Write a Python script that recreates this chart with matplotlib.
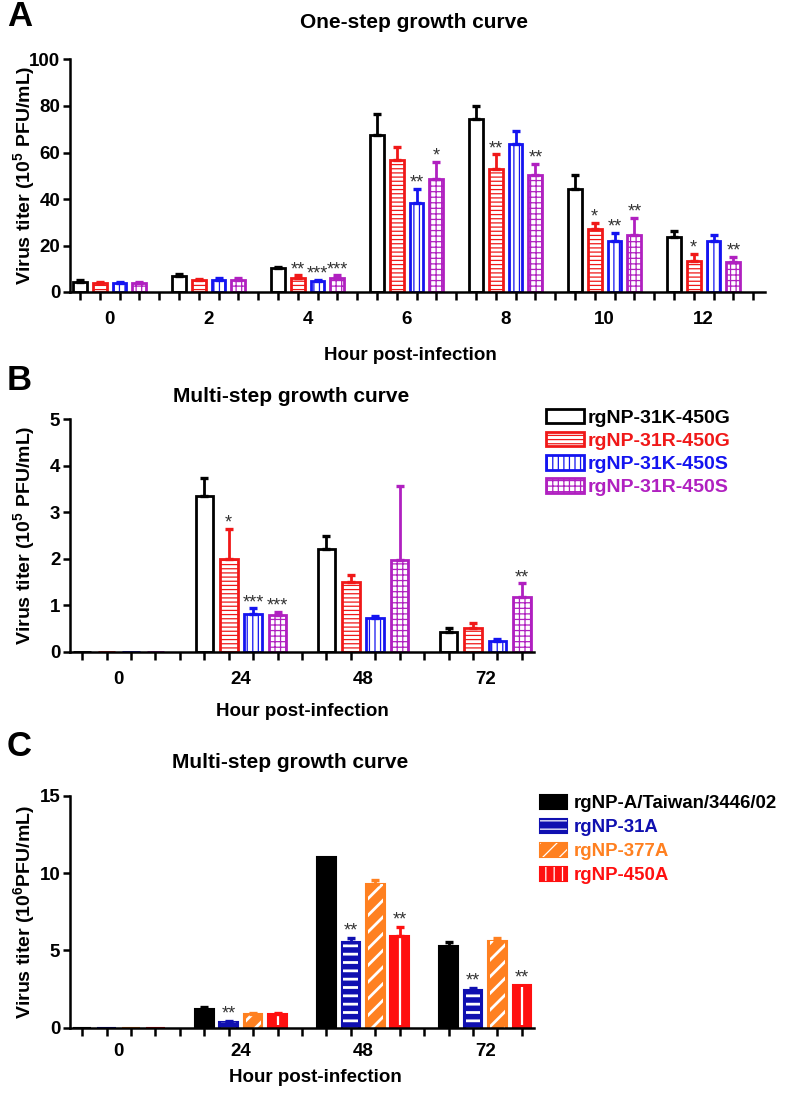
import numpy as np
import matplotlib
matplotlib.use("Agg")
import matplotlib.pyplot as plt
from matplotlib.patches import Patch
from matplotlib import rcParams

rcParams['font.family'] = ['Liberation Sans', 'DejaVu Sans']
rcParams['font.weight'] = 'bold'
rcParams['mathtext.fontset'] = 'custom'
rcParams['mathtext.rm'] = 'Liberation Sans:bold'
rcParams['mathtext.bf'] = 'Liberation Sans:bold'
rcParams['mathtext.default'] = 'bf'
rcParams['hatch.linewidth'] = 0.9

# ---------------- data ----------------
# panel A: one-step growth curve (10^5 PFU/mL)
hours_a = ['0', '2', '4', '6', '8', '10', '12']
a_31K_450G = [4.3, 6.7, 10.3, 67.5, 74.3, 44.2, 23.5]
a_31K_450G_err = [0.9, 0.9, 0.5, 9.0, 5.7, 6.1, 2.7]
a_31R_450G = [3.9, 5.2, 6.2, 56.8, 52.8, 27.0, 13.5]
a_31R_450G_err = [0.5, 0.5, 1.0, 5.7, 6.4, 2.8, 2.8]
a_31K_450S = [3.7, 5.3, 4.6, 38.4, 63.5, 21.9, 21.9]
a_31K_450S_err = [0.4, 0.6, 0.5, 5.9, 5.9, 3.6, 2.6]
a_31R_450S = [3.7, 5.0, 6.2, 48.5, 50.3, 24.5, 12.8]
a_31R_450S_err = [0.4, 0.9, 0.9, 7.5, 4.7, 7.5, 2.4]
a_stars_31R_450G = ['', '', '**', '', '**', '*', '*']
a_stars_31K_450S = ['', '', '***', '**', '', '**', '']
a_stars_31R_450S = ['', '', '***', '*', '**', '**', '**']

# panel B: multi-step growth curve (10^5 PFU/mL)
hours_b = ['0', '24', '48', '72']
b_31K_450G = [0, 3.35, 2.22, 0.43]
b_31K_450G_err = [0, 0.38, 0.27, 0.07]
b_31R_450G = [0, 2.0, 1.5, 0.52]
b_31R_450G_err = [0, 0.65, 0.15, 0.10]
b_31K_450S = [0, 0.81, 0.72, 0.24]
b_31K_450S_err = [0, 0.12, 0.05, 0.03]
b_31R_450S = [0, 0.80, 1.97, 1.18]
b_31R_450S_err = [0, 0.06, 1.60, 0.29]
b_stars_31R_450G = ['', '*', '', '']
b_stars_31K_450S = ['', '***', '', '']
b_stars_31R_450S = ['', '***', '', '**']

# panel C: multi-step growth curve (10^6 PFU/mL)
hours_c = ['0', '24', '48', '72']
c_taiwan = [0, 1.23, 11.07, 5.29]
c_taiwan_err = [0, 0.10, 0.0, 0.28]
c_31A = [0, 0.37, 5.57, 2.42]
c_31A_err = [0, 0.05, 0.21, 0.13]
c_377A = [0, 0.89, 9.30, 5.59]
c_377A_err = [0, 0.04, 0.24, 0.19]
c_450A = [0, 0.88, 5.93, 2.76]
c_450A_err = [0, 0.04, 0.59, 0.0]
c_stars_31A = ['', '**', '**', '**']
c_stars_450A = ['', '', '**', '**']

labels_ab = ['rgNP-31K-450G', 'rgNP-31R-450G', 'rgNP-31K-450S', 'rgNP-31R-450S']
labels_c = ['rgNP-A/Taiwan/3446/02', 'rgNP-31A', 'rgNP-377A', 'rgNP-450A']

cols_ab = ['black', '#f01818', '#1414f0', '#b020c0']
hatch_ab = [None, '----', '|||', '+++']
cols_c = ['black', '#1010b0', '#ff8020', '#ff1010']
hatch_c = [None, '--', '//', None]   # 450A gets a single white centre line instead

STAR_KW = dict(ha='center', va='bottom', fontsize=13, fontweight='normal',
               color='#333333', zorder=4)


def style_axes(ax, n_groups, ymax, ystep, tick_pad):
    slots = np.arange(n_groups * 5)
    ax.spines['top'].set_visible(False)
    ax.spines['right'].set_visible(False)
    ax.spines['left'].set_linewidth(1.8)
    ax.spines['bottom'].set_linewidth(1.8)
    ax.set_ylim(0, ymax)
    ax.set_yticks(np.arange(0, ymax + 0.01, ystep))
    ax.tick_params(axis='y', length=5, width=1.8, labelsize=13.5, pad=2)
    ax.tick_params(axis='x', which='major', length=5.5, width=1.8, labelbottom=False)
    ax.tick_params(axis='x', which='minor', length=0, labelsize=13.5, pad=tick_pad)
    return slots


def put_stars(ax, x, vals, err, st, dy):
    for xi, v, e, s in zip(x, vals, err, st):
        if s:
            ax.annotate(s, (xi, v + e), xytext=(0, dy),
                        textcoords='offset points', **STAR_KW)


def draw_open(ax, series, errs, stars, cols, hatches, width):
    for i, (vals, err, st) in enumerate(zip(series, errs, stars)):
        x = np.arange(len(vals)) * 5 + i
        vals = np.array(vals)
        ax.bar(x, vals, width=width, facecolor='white', edgecolor=cols[i],
               hatch=hatches[i], linewidth=2, zorder=2)
        m = vals > 0
        ax.errorbar(x[m], vals[m], yerr=[np.zeros(m.sum()), np.array(err)[m]],
                    fmt='none', ecolor=cols[i], elinewidth=2, capsize=3.2,
                    capthick=2.4, zorder=3)
        put_stars(ax, x, vals, err, st, -2)


def draw_filled(ax, series, errs, stars, cols, hatches, width):
    for i, (vals, err, st) in enumerate(zip(series, errs, stars)):
        x = np.arange(len(vals)) * 5 + i
        vals = np.array(vals)
        ax.bar(x, vals, width=width, facecolor=cols[i], edgecolor=cols[i],
               linewidth=1.5, zorder=2)
        if hatches[i]:
            hb = ax.bar(x, vals, width=width * 0.8, facecolor='none', edgecolor='white',
                        hatch=hatches[i], linewidth=0, zorder=2.5)
            for p in hb:
                if hasattr(p, 'set_hatch_linewidth'):
                    p.set_hatch_linewidth(2.0)
        m = (vals > 0) & (np.array(err) > 0)
        ax.errorbar(x[m], vals[m], yerr=[np.zeros(m.sum()), np.array(err)[m]],
                    fmt='none', ecolor=cols[i], elinewidth=2, capsize=3.2,
                    capthick=2.4, zorder=3)
        put_stars(ax, x, vals, err, st, -1)


fig = plt.figure(figsize=(7.87, 10.93), dpi=100)
W, H = 787, 1093


def px_axes(left, top, right, bottom):
    return fig.add_axes([left / W, 1 - bottom / H, (right - left) / W, (bottom - top) / H])


# ---- panel A ----
axA = px_axes(70, 59.5, 765, 292)
slots = style_axes(axA, len(hours_a), 100, 20, 14)
draw_open(axA, [a_31K_450G, a_31R_450G, a_31K_450S, a_31R_450S],
          [a_31K_450G_err, a_31R_450G_err, a_31K_450S_err, a_31R_450S_err],
          [[''] * 7, a_stars_31R_450G, a_stars_31K_450S, a_stars_31R_450S],
          cols_ab, hatch_ab, 0.7)
axA.set_xticks(slots)
axA.set_xticks(np.arange(len(hours_a)) * 5 + 1.5, hours_a, minor=True)
axA.set_xlim(-0.5, 34.6)

# ---- panel B ----
axB = px_axes(70, 419.3, 534, 651.7)
slots = style_axes(axB, len(hours_b), 5, 1, 14)
draw_open(axB, [b_31K_450G, b_31R_450G, b_31K_450S, b_31R_450S],
          [b_31K_450G_err, b_31R_450G_err, b_31K_450S_err, b_31R_450S_err],
          [[''] * 4, b_stars_31R_450G, b_stars_31K_450S, b_stars_31R_450S],
          cols_ab, hatch_ab, 0.72)
axB.set_xticks(slots[:-1])
axB.set_xticks(np.arange(len(hours_b)) * 5 + 1.5, hours_b, minor=True)
axB.set_xlim(-0.5, 18.5)

# ---- panel C ----
axC = px_axes(70, 796, 534, 1027.7)
slots = style_axes(axC, len(hours_c), 15, 5, 11)
draw_filled(axC, [c_taiwan, c_31A, c_377A, c_450A],
            [c_taiwan_err, c_31A_err, c_377A_err, c_450A_err],
            [[''] * 4, c_stars_31A, [''] * 4, c_stars_450A],
            cols_c, hatch_c, 0.76)
# white centre line on the rgNP-450A bars
x450 = np.arange(len(c_450A)) * 5 + 3
v450 = np.array(c_450A)
axC.vlines(x450[v450 > 0], 0.15, v450[v450 > 0] - 0.15, color='white', lw=1.6, zorder=2.6)
axC.set_xticks(slots[:-1])
axC.set_xticks(np.arange(len(hours_c)) * 5 + 1.5, hours_c, minor=True)
axC.set_xlim(-0.5, 18.5)

# ---- texts ----
fig.text(7 / W, 1 - 17 / H, 'A', fontsize=25, va='center', ha='left')
fig.text(7 / W, 1 - 381 / H, 'B', fontsize=25, va='center', ha='left')
fig.text(7 / W, 1 - 746 / H, 'C', fontsize=25, va='center', ha='left')

fig.text(414 / W, 1 - 22 / H, 'One-step growth curve', fontsize=15, ha='center', va='center')
fig.text(291 / W, 1 - 397 / H, 'Multi-step growth curve', fontsize=15, ha='center', va='center')
fig.text(290 / W, 1 - 762 / H, 'Multi-step growth curve', fontsize=15, ha='center', va='center')

fig.text(410 / W, 1 - 355 / H, 'Hour post-infection', fontsize=13.5, ha='center', va='center')
fig.text(302 / W, 1 - 711 / H, 'Hour post-infection', fontsize=13.5, ha='center', va='center')
fig.text(315 / W, 1 - 1077 / H, 'Hour post-infection', fontsize=13.5, ha='center', va='center')

fig.text(24 / W, 1 - 175 / H, 'Virus titer (10$^5$ PFU/mL)', fontsize=14,
         rotation=90, ha='center', va='center')
fig.text(24 / W, 1 - 535 / H, 'Virus titer (10$^5$ PFU/mL)', fontsize=14,
         rotation=90, ha='center', va='center')
fig.text(24 / W, 1 - 912 / H, 'Virus titer (10$^6$PFU/mL)', fontsize=14,
         rotation=90, ha='center', va='center')

# ---- legends ----
hB = [Patch(facecolor='white', edgecolor=c, hatch=h, linewidth=2)
      for c, h in zip(cols_ab, hatch_ab)]
legB = fig.legend(hB, labels_ab, loc='upper left', bbox_to_anchor=(546 / W, 1 - 409 / H),
                  frameon=False, fontsize=14, borderpad=0, borderaxespad=0,
                  handlelength=1.95, handleheight=0.75, handletextpad=0.2,
                  labelspacing=0.27)
for t, c in zip(legB.get_texts(), cols_ab):
    t.set_color(c)

hatch_leg_c = [None, '--', '//', '||']
hC = []
for c, h in zip(cols_c, hatch_leg_c):
    base = Patch(facecolor=c, edgecolor=c, linewidth=1.5)
    if h:
        hC.append((base, Patch(facecolor='none', edgecolor='white', hatch=h, linewidth=0)))
    else:
        hC.append(base)
legC = fig.legend(hC, labels_c, loc='upper left', bbox_to_anchor=(540 / W, 1 - 795 / H),
                  frameon=False, fontsize=13.4, borderpad=0, borderaxespad=0,
                  handlelength=1.45, handleheight=0.75, handletextpad=0.35,
                  labelspacing=0.36)
for t, c in zip(legC.get_texts(), cols_c):
    t.set_color(c)

fig.savefig('out.png', dpi=100)
